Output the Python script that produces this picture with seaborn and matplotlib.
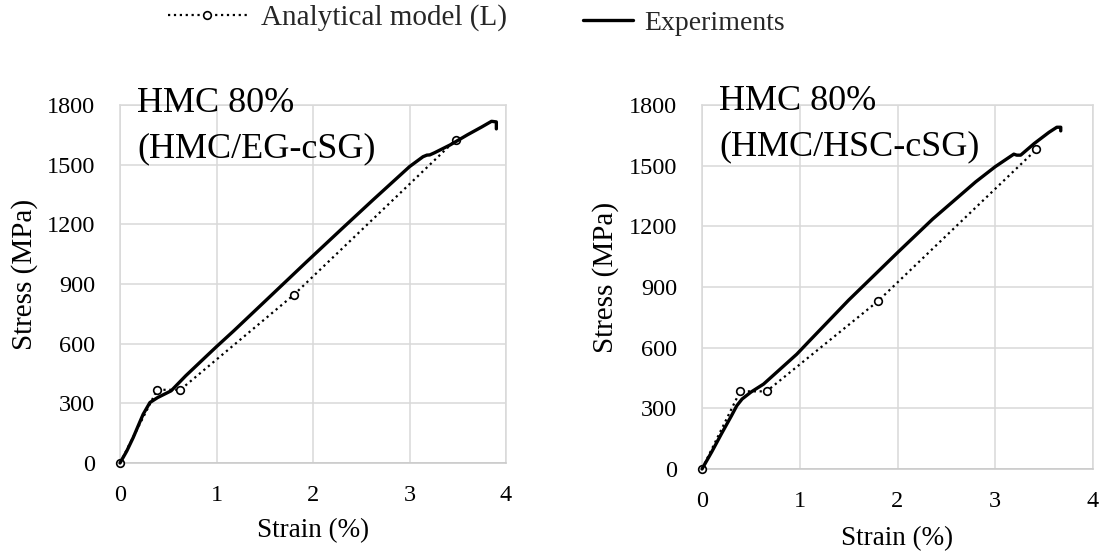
import matplotlib
matplotlib.use("Agg")
import matplotlib.pyplot as plt
import seaborn as sns
import pandas as pd

sns.set_theme(style="white")
plt.rcParams["font.family"] = ["Liberation Serif", "DejaVu Serif"]

# Experimental stress-strain curves (strain %, stress MPa)
exp_eg_strain = [0, 0.07, 0.137, 0.2, 0.24, 0.31, 0.39, 0.53, 0.68, 0.88, 1.0, 1.18,
                 1.5, 1.93, 2.3, 2.62, 3.0, 3.14, 3.18, 3.21, 3.26, 3.42, 3.6, 3.75,
                 3.85, 3.9, 3.9]
exp_eg_stress = [0, 60, 128, 200, 245, 304, 329, 363, 438, 530, 585, 665,
                 812, 1010, 1178, 1322, 1490, 1540, 1548, 1549, 1560, 1599, 1650, 1690,
                 1718, 1715, 1680]

exp_hsc_strain = [0, 0.1, 0.2, 0.3, 0.356, 0.41, 0.5, 0.63, 0.8, 0.97, 1.1, 1.5,
                  2.0, 2.36, 2.8, 3.0, 3.19, 3.22, 3.26, 3.4, 3.55, 3.63, 3.67, 3.67]
exp_hsc_stress = [0, 85, 175, 262, 313, 346, 380, 420, 494, 568, 634, 835,
                  1070, 1236, 1420, 1495, 1557, 1552, 1552, 1610, 1665, 1690, 1690, 1672]

# Analytical model (L) predictions
model_eg_strain = [0, 0.385, 0.625, 1.80, 3.48]
model_eg_stress = [0, 368, 368, 845, 1625]
model_hsc_strain = [0, 0.39, 0.66, 1.80, 3.42]
model_hsc_stress = [0, 384, 384, 830, 1580]

titles = [("HMC 80%", "(HMC/EG-cSG)"), ("HMC 80%", "(HMC/HSC-cSG)")]
x_ticks = [0, 1, 2, 3, 4]
y_ticks = [0, 300, 600, 900, 1200, 1500, 1800]

W, H = 1103, 553
fig = plt.figure(figsize=(W / 100, H / 100), dpi=100)

# axes placement in pixels: left, y of the zero line, right, y of the top line
boxes = [(120, 463, 506, 105), (702, 469, 1093, 105)]
title_base = [(112, 157), (110, 155)]

grid_c = "#d9d9d9"
panels = [
    (exp_eg_strain, exp_eg_stress, model_eg_strain, model_eg_stress),
    (exp_hsc_strain, exp_hsc_stress, model_hsc_strain, model_hsc_stress),
]

handles = {}
for i, (es, ey, ms, my) in enumerate(panels):
    l, b, r, t = boxes[i]
    ax = fig.add_axes([l / W, 1 - b / H, (r - l) / W, (b - t) / H])

    exp_df = pd.DataFrame({"strain": es, "stress": ey})
    mod_df = pd.DataFrame({"strain": ms, "stress": my})

    sns.lineplot(data=mod_df, x="strain", y="stress", ax=ax, sort=False,
                 estimator=None, color="black", linestyle=":", linewidth=1.6,
                 marker="o", markersize=5.5, markerfacecolor="white",
                 markeredgecolor="black", markeredgewidth=1.2,
                 clip_on=False, zorder=3, label="Analytical model (L)")
    sns.lineplot(data=exp_df, x="strain", y="stress", ax=ax, sort=False,
                 estimator=None, color="black", linewidth=2.4,
                 clip_on=False, zorder=4, label="Experiments")
    h, lab = ax.get_legend_handles_labels()
    handles = dict(zip(lab, h))
    ax.get_legend().remove()

    ax.set_xlim(0, 4)
    ax.set_ylim(0, 1800)
    ax.set_xticks(x_ticks)
    ax.set_yticks(y_ticks)
    ax.set_xticklabels([str(v) for v in x_ticks])
    ax.set_yticklabels([str(v) for v in y_ticks])
    ax.tick_params(axis="x", length=0, pad=16, labelsize=17.5, colors="black")
    ax.tick_params(axis="y", length=0, pad=18, labelsize=17.5, colors="black")
    ax.grid(True, color=grid_c, linewidth=1.1)
    ax.set_axisbelow(True)
    for side, sp in ax.spines.items():
        sp.set_visible(True)
        sp.set_color(grid_c if side != "bottom" else "#c8c8c8")
        sp.set_linewidth(1.1)

    ax.set_xlabel("Strain (%)", fontsize=19.5, color="black")
    ax.set_ylabel("Stress (MPa)", fontsize=21, color="black")
    ax.xaxis.label.set_va("center")
    ax.yaxis.label.set_va("center")
    ax.xaxis.set_label_coords(0.5, -0.19)
    ax.yaxis.set_label_coords(-0.247, 0.527)

    for txt, base in zip(titles[i], title_base[i]):
        ax.text(17 / (r - l), (b - base) / (b - t), txt,
                transform=ax.transAxes, ha="left", va="baseline",
                fontsize=26, color="black", zorder=5)

# legend entries along the top of the figure
fig.legend(handles=[handles["Analytical model (L)"]], labels=["Analytical model (L)"],
           loc="center left", bbox_to_anchor=(168 / W, 1 - 18 / H),
           frameon=False, fontsize=21, handlelength=2.7, handletextpad=0.5,
           borderpad=0, borderaxespad=0, numpoints=1)
fig.legend(handles=[handles["Experiments"]], labels=["Experiments"],
           loc="center left", bbox_to_anchor=(583 / W, 1 - 23 / H),
           frameon=False, fontsize=20, handlelength=1.8, handletextpad=0.4,
           borderpad=0, borderaxespad=0)

fig.savefig("out.png", dpi=100, facecolor="white")
